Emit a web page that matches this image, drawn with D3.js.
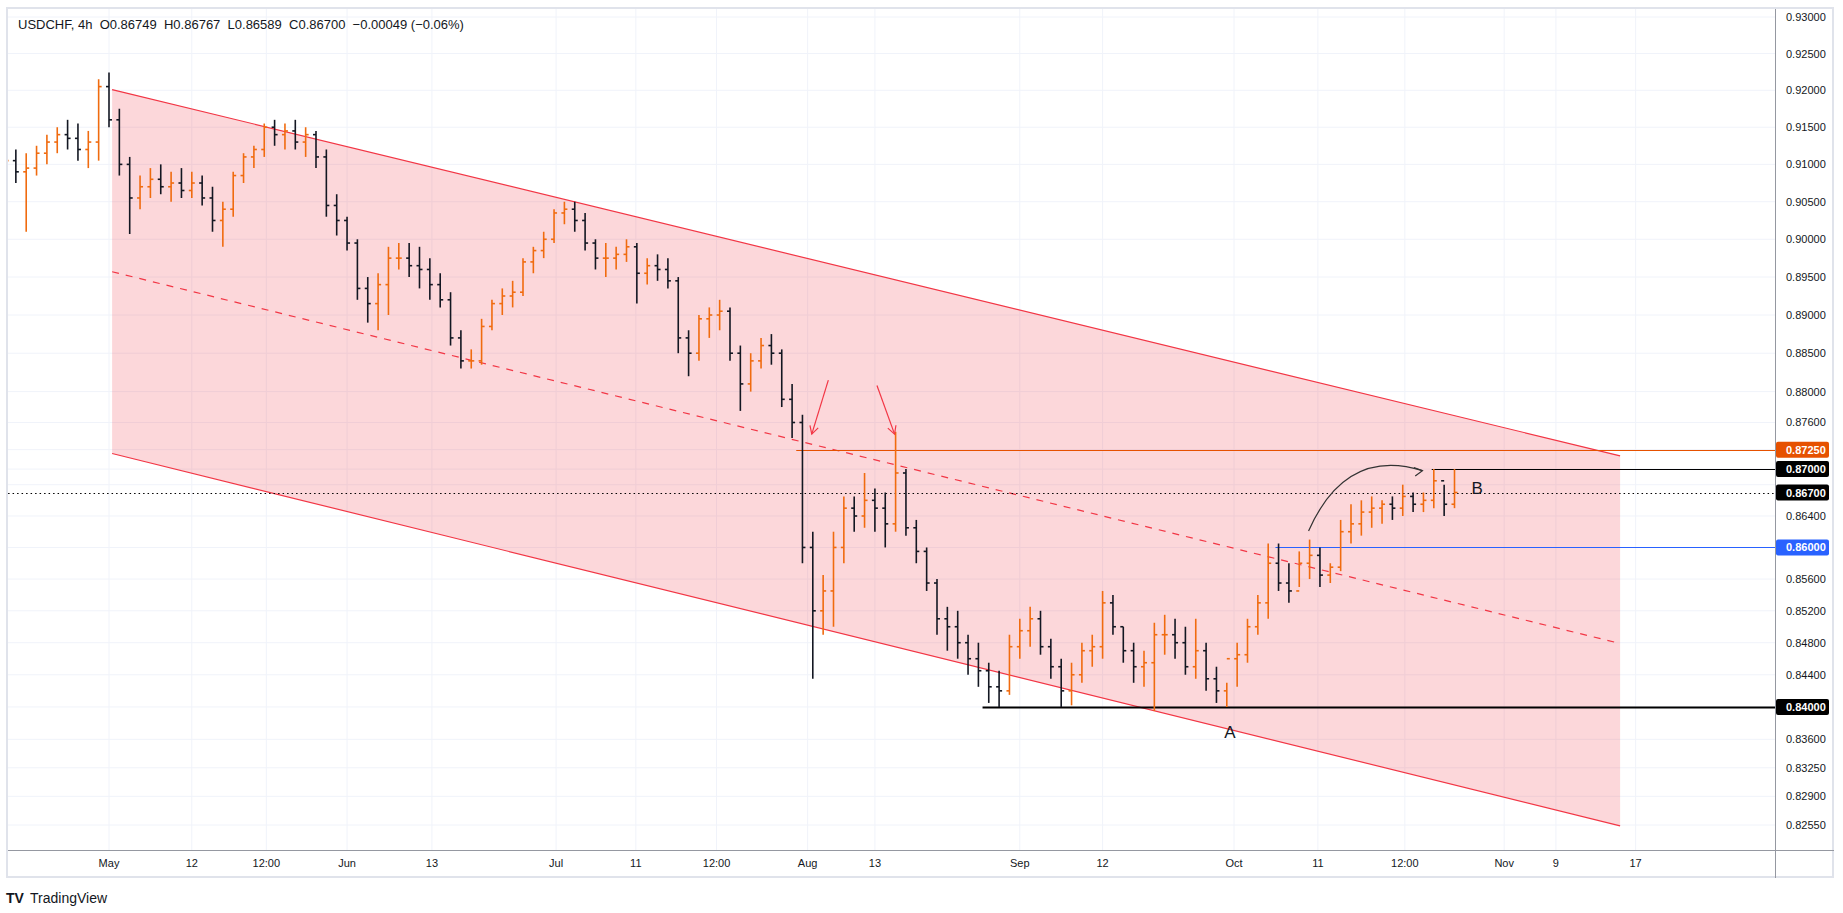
<!DOCTYPE html>
<html lang="en">
<head>
<meta charset="UTF-8">
<title>USDCHF 4h</title>
<script src="https://d3js.org/d3.v7.min.js"></script>
<style>
  body { margin: 0; background: #fff; }
  text { font-family: "Liberation Sans", Arial, sans-serif; }
</style>
</head>
<body>
<svg width="1843" height="913"></svg>
<script>
// daily bars, index 0 = May 1 (trading days), negatives = late April
const startIdx = -10;
const highs = [.9125,.9120,.9115,.9125,.9140,.9150,.9160,.9155,.9145,.9215,
  .9224,.9175,.9110,.9085,.9095,.9100,.9090,.9095,.9090,.9085,.9070,.9050,.9090,.9115,.9125,.9155,.9160,.9155,.9160,.9150,.9145,.9120,.9060,
  .9030,.9000,.8950,.8955,.8990,.8995,.8995,.8990,.8975,.8955,.8930,.8880,.8855,.8895,.8920,.8935,.8945,.8975,.8990,.9010,
  .9040,.9050,.9050,.9035,.9000,.8995,.8990,.9000,.8995,.8975,.8980,.8975,.8950,.8880,.8900,.8910,.8920,.8910,.8860,.8850,.8870,.8875,.8855,
  .8810,.8770,.8620,.8565,.8620,.8665,.8665,.8695,.8675,.8670,.8748,.8700,.8635,.8600,.8560,.8525,.8520,.8490,.8480,.8455,.8445,.8490,
  .8510,.8525,.8520,.8485,.8460,.8455,.8480,.8490,.8545,.8540,.8500,.8480,.8470,.8505,.8515,.8510,.8500,.8510,.8480,.8450,.8430,
  .8480,.8510,.8540,.8605,.8605,.8580,.8595,.8610,.8600,.8580,.8635,.8655,.8660,.8665,.8660,.8665,.8680,.8670,.8670,.8700,.8680,.8700];
const lows = [.9080,.9075,.9010,.9085,.9100,.9115,.9120,.9105,.9095,.9105,
  .9150,.9085,.9007,.9040,.9055,.9060,.9050,.9055,.9055,.9045,.9010,.8990,.9030,.9075,.9095,.9110,.9125,.9120,.9120,.9110,.9095,.9030,.9005,
  .8985,.8920,.8890,.8880,.8900,.8960,.8950,.8935,.8920,.8910,.8860,.8830,.8830,.8835,.8880,.8900,.8910,.8925,.8955,.8975,
  .8995,.9020,.9010,.8985,.8960,.8950,.8960,.8970,.8915,.8940,.8945,.8935,.8850,.8820,.8840,.8870,.8880,.8840,.8775,.8800,.8830,.8835,.8780,
  .8740,.8580,.8435,.8490,.8500,.8580,.8620,.8625,.8620,.8600,.8620,.8615,.8580,.8545,.8490,.8470,.8460,.8440,.8425,.8405,.8400,.8415,
  .8460,.8475,.8465,.8435,.8400,.8402,.8430,.8450,.8460,.8490,.8455,.8430,.8425,.8395,.8465,.8460,.8440,.8435,.8420,.8405,.8400,
  .8425,.8455,.8490,.8510,.8545,.8530,.8550,.8560,.8550,.8555,.8570,.8605,.8615,.8625,.8630,.8635,.8640,.8645,.8645,.8650,.8640,.8650];
const closes = [.9105,.9090,.9095,.9115,.9130,.9140,.9135,.9120,.9130,.9205,
  .9160,.9100,.9055,.9070,.9080,.9070,.9075,.9065,.9075,.9055,.9025,.9040,.9085,.9110,.9120,.9150,.9140,.9145,.9130,.9140,.9110,.9045,.9025,
  .8995,.8935,.8915,.8940,.8975,.8975,.8965,.8960,.8940,.8920,.8870,.8840,.8840,.8885,.8915,.8925,.8930,.8970,.8985,.9000,
  .9035,.9040,.9025,.8995,.8975,.8975,.8980,.8990,.8955,.8965,.8960,.8945,.8870,.8850,.8895,.8900,.8905,.8850,.8810,.8840,.8860,.8850,.8790,
  .8760,.8600,.8520,.8545,.8600,.8650,.8640,.8660,.8650,.8630,.8695,.8625,.8595,.8555,.8510,.8500,.8480,.8460,.8445,.8425,.8420,.8475,
  .8495,.8510,.8475,.8450,.8420,.8440,.8470,.8475,.8530,.8500,.8470,.8450,.8455,.8490,.8490,.8480,.8450,.8470,.8435,.8420,.8460,
  .8465,.8500,.8530,.8580,.8555,.8545,.8580,.8590,.8565,.8575,.8620,.8630,.8645,.8650,.8655,.8650,.8665,.8655,.8660,.8685,.8655,.8670];
const firstOpen = .9100;

const priceTicks = [0.93,0.925,0.92,0.915,0.91,0.905,0.90,0.895,0.89,0.885,0.88,0.876,0.864,0.856,0.852,0.848,0.844,0.836,0.8325,0.829,0.8255];
const xTicks = [[0,"May"],[8,"12"],[15.2,"12:00"],[23,"Jun"],[31.2,"13"],[43.2,"Jul"],[50.9,"11"],[58.7,"12:00"],[67.5,"Aug"],[74,"13"],
  [88,"Sep"],[96,"12"],[108.7,"Oct"],[116.8,"11"],[125.2,"12:00"],[134.8,"Nov"],[139.8,"9"],[147.5,"17"]];

// channel: [idx, price] endpoints
const chUpper = [[0.3,.9201],[146,.8717]];
const chMid = [[0.3,.8957],[146,.8479]];
const chLower = [[0.3,.8720],[146,.8254]];

// horizontal levels: price, start idx, colour, width, label bg
const levels = [
  {p:.8725, from:66.4, color:"#e65100", w:1, bg:"#e65100"},
  {p:.8700, from:127.8, color:"#000", w:1, bg:"#000"},
  {p:.8670, from:-9.75, color:"#000", w:1, bg:"#000", dotted:true},
  {p:.8600, from:112.7, color:"#2962ff", w:1, bg:"#2962ff"},
  {p:.8400, from:84.4, color:"#000", w:2.2, bg:"#000"}
];
const redArrows = [[[69.5,.8815],[67.9,.8745]],[[74.2,.8808],[75.9,.8745]]];
const curveArrow = [[115.9,.8621],[119.5,.8700],[126.9,.8698]];
const letters = [["A",108.3,.8362],["B",132.2,.8668]];

const svg = d3.select("svg");
const L = 8, R = 1775, T = 9, B = 850;
const x = d3.scaleLinear().domain([0, 1]).range([109, 119.35]);
const y = d3.scaleLog().domain([0.93, 0.8255]).range([17, 825]);

// frame
svg.append("rect").attr("x", 0).attr("y", 0).attr("width", 1843).attr("height", 913).attr("fill", "#fff");
svg.append("rect").attr("x", L - 1).attr("y", T - 1).attr("width", 1834 - L).attr("height", 878 - T)
  .attr("fill", "none").attr("stroke", "#e0e3eb").attr("stroke-width", 2);

const clip = svg.append("clipPath").attr("id", "plot").append("rect")
  .attr("x", L).attr("y", T).attr("width", R - L).attr("height", B - T);
const g = svg.append("g").attr("clip-path", "url(#plot)");

// grid
g.selectAll(".hg").data(priceTicks.concat([.8725,.870,.868,.860,.840])).enter().append("line")
  .attr("x1", L).attr("x2", R).attr("y1", d => y(d)).attr("y2", d => y(d))
  .attr("stroke", "#f0f3fa").attr("stroke-width", 1);
g.selectAll(".vg").data(xTicks).enter().append("line")
  .attr("x1", d => x(d[0])).attr("x2", d => x(d[0])).attr("y1", T).attr("y2", B)
  .attr("stroke", "#f0f3fa").attr("stroke-width", 1);

// channel fill and lines
const poly = [chUpper[0], chUpper[1], chLower[1], chLower[0]];
g.append("path").attr("d", d3.line().x(d => x(d[0])).y(d => y(d[1]))(poly) + "Z")
  .attr("fill", "rgba(242,54,69,0.2)");
const ln = d3.line().x(d => x(d[0])).y(d => y(d[1]));
g.append("path").attr("d", ln(chUpper)).attr("stroke", "#f23645").attr("stroke-width", 1.2).attr("fill", "none");
g.append("path").attr("d", ln(chLower)).attr("stroke", "#f23645").attr("stroke-width", 1.2).attr("fill", "none");
g.append("path").attr("d", ln(chMid)).attr("stroke", "#f23645").attr("stroke-width", 1.2)
  .attr("stroke-dasharray", "7,7").attr("fill", "none");

// levels
g.selectAll(".lvl").data(levels).enter().append("line")
  .attr("x1", d => x(d.from)).attr("x2", R).attr("y1", d => Math.round(y(d.p)) + 0.5).attr("y2", d => Math.round(y(d.p)) + 0.5)
  .attr("stroke", d => d.color).attr("stroke-width", d => d.w)
  .attr("stroke-dasharray", d => d.dotted ? "1.5,3" : null);

// bars
const bars = closes.map((c, i) => ({
  i: i + startIdx, o: i === 0 ? firstOpen : closes[i - 1], h: highs[i], l: lows[i], c: c
}));
const bg = g.selectAll(".bar").data(bars).enter().append("g")
  .attr("stroke", d => d.c >= d.o ? "#f06b0f" : "#131722").attr("stroke-width", 1.6);
bg.append("line").attr("x1", d => x(d.i)).attr("x2", d => x(d.i)).attr("y1", d => y(d.h)).attr("y2", d => y(d.l));
bg.append("line").attr("x1", d => x(d.i) - 3).attr("x2", d => x(d.i)).attr("y1", d => y(d.o)).attr("y2", d => y(d.o));
bg.append("line").attr("x1", d => x(d.i)).attr("x2", d => x(d.i) + 3).attr("y1", d => y(d.c)).attr("y2", d => y(d.c));

// arrows
const arrowHead = (sel, p0, p1, color) => {
  const x0 = x(p0[0]), y0 = y(p0[1]), x1 = x(p1[0]), y1 = y(p1[1]);
  const a = Math.atan2(y1 - y0, x1 - x0), s = 9;
  sel.append("path").attr("d", `M${x1 - s * Math.cos(a - 0.5)},${y1 - s * Math.sin(a - 0.5)}L${x1},${y1}L${x1 - s * Math.cos(a + 0.5)},${y1 - s * Math.sin(a + 0.5)}`)
    .attr("fill", "none").attr("stroke", color).attr("stroke-width", 1.2);
};
redArrows.forEach(a => {
  g.append("path").attr("d", ln(a)).attr("stroke", "#f23645").attr("stroke-width", 1.2).attr("fill", "none");
  arrowHead(g, a[0], a[1], "#f23645");
});
const c0 = curveArrow;
g.append("path").attr("d", `M${x(c0[0][0])},${y(c0[0][1])}Q${x(c0[1][0])},${y(c0[1][1]) - 22} ${x(c0[2][0])},${y(c0[2][1])}`)
  .attr("stroke", "#333").attr("stroke-width", 1.2).attr("fill", "none");
arrowHead(g, [c0[2][0] - 1, c0[2][1] - 0.0002], c0[2], "#333");

g.selectAll(".let").data(letters).enter().append("text")
  .attr("x", d => x(d[1])).attr("y", d => y(d[2])).attr("text-anchor", "middle")
  .attr("font-size", 17).attr("fill", "#131722").text(d => d[0]);

// axes lines
svg.append("line").attr("x1", R + 0.5).attr("x2", R + 0.5).attr("y1", T).attr("y2", 878).attr("stroke", "#9598a1");
svg.append("line").attr("x1", L).attr("x2", 1834).attr("y1", B + 0.5).attr("y2", B + 0.5).attr("stroke", "#9598a1");

// price labels
svg.selectAll(".pl").data(priceTicks).enter().append("text")
  .attr("x", 1786).attr("y", d => y(d) + 4).attr("font-size", 11).attr("fill", "#131722")
  .text(d => d.toFixed(5));
const lb = svg.selectAll(".lb").data(levels).enter().append("g");
lb.append("rect").attr("x", R + 1).attr("y", d => y(d.p) - 8).attr("width", 53).attr("height", 16).attr("rx", 2)
  .attr("fill", d => d.bg);
lb.append("text").attr("x", 1786).attr("y", d => y(d.p) + 4).attr("font-size", 11).attr("font-weight", "bold")
  .attr("fill", "#fff").text(d => d.p.toFixed(5));

// time labels
svg.selectAll(".tl").data(xTicks).enter().append("text")
  .attr("x", d => x(d[0])).attr("y", 867).attr("text-anchor", "middle").attr("font-size", 11)
  .attr("fill", "#131722").text(d => d[1]);

// header & logo
svg.append("text").attr("x", 18).attr("y", 29).attr("font-size", 13).attr("fill", "#131722")
  .attr("xml:space", "preserve")
  .text("USDCHF, 4h  O0.86749  H0.86767  L0.86589  C0.86700  \u22120.00049 (\u22120.06%)");
svg.append("text").attr("x", 6).attr("y", 903).attr("font-size", 14).attr("font-weight", "900").attr("fill", "#131722").text("TV");
svg.append("text").attr("x", 30).attr("y", 903).attr("font-size", 14).attr("fill", "#131722").text("TradingView");
</script>
</body>
</html>
